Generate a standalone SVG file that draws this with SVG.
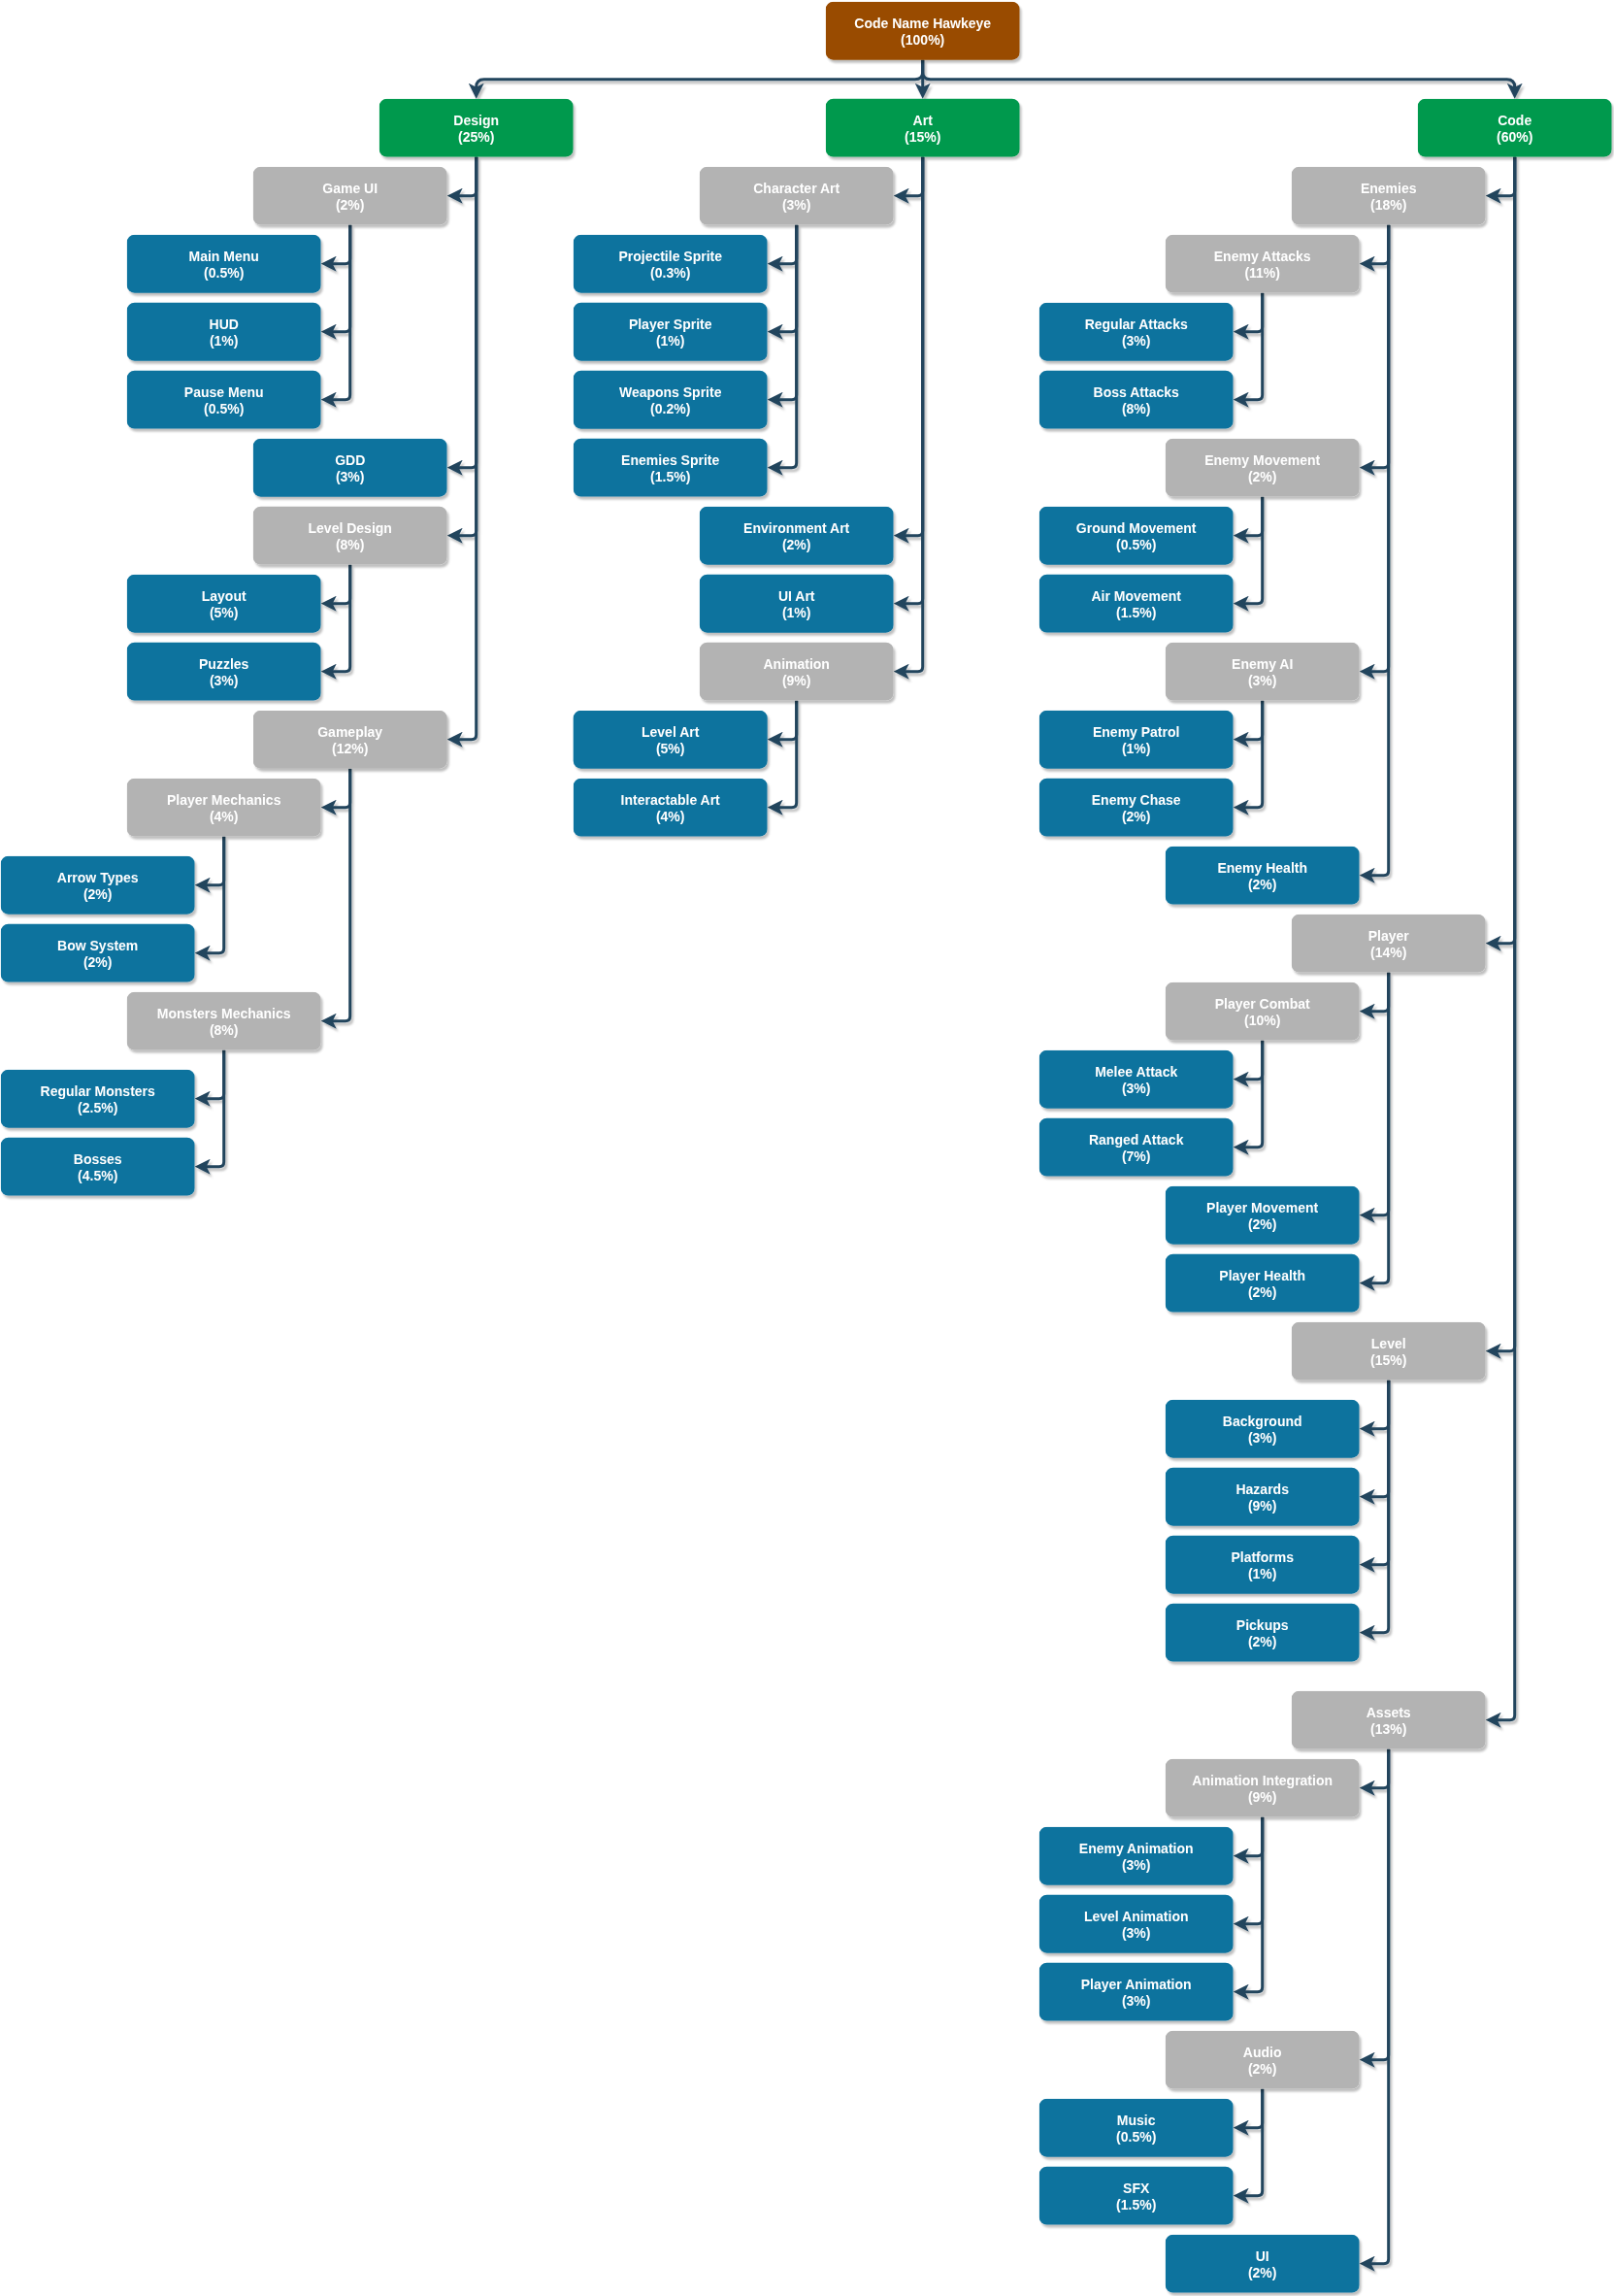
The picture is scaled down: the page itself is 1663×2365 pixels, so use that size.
<svg xmlns="http://www.w3.org/2000/svg" width="1663" height="2365" viewBox="0 0 1663 2365">
<style>
.n rect{rx:8;ry:8}
.root rect{fill:#994C00}
.grn rect{fill:#00994D}
.gry rect{fill:#B3B3B3}
.blu rect{fill:#10739E}
.n text{font-family:"Liberation Sans",Arial,sans-serif;font-size:14px;font-weight:bold;fill:#FFFFFF;text-anchor:middle}
.e path{fill:none;stroke:#23445D;stroke-width:3;marker-end:url(#arr)}
</style>
<defs>
<filter id="sh" x="-10%" y="-10%" width="130%" height="140%">
<feDropShadow dx="2" dy="3" stdDeviation="1" flood-color="#000000" flood-opacity="0.25"/>
</filter>
<marker id="arr" markerUnits="userSpaceOnUse" markerWidth="16" markerHeight="16" viewBox="0 0 16 16" refX="8" refY="8" orient="auto">
<path d="M0,0 L16,8 L0,16 L4,8 Z" fill="#23445D"/>
</marker>
<rect id="box" width="200" height="60"/>
</defs>
<rect width="1663" height="2365" fill="#FFFFFF"/>
<g transform="translate(0.7,1.7)">
<g id="connectors" class="e" filter="url(#sh)">
<path d="M950 60 V72 Q950 80 942 80 H498 Q490 80 490 88 V92"/>
<path d="M950 60 V92"/>
<path d="M950 60 V72 Q950 80 958 80 H1552 Q1560 80 1560 88 V92"/>
<path d="M490 160 V195 Q490 200 485 200 H468"/>
<path d="M490 160 V475 Q490 480 485 480 H468"/>
<path d="M490 160 V545 Q490 550 485 550 H468"/>
<path d="M490 160 V755 Q490 760 485 760 H468"/>
<path d="M360 230 V265 Q360 270 355 270 H338"/>
<path d="M360 230 V335 Q360 340 355 340 H338"/>
<path d="M360 230 V405 Q360 410 355 410 H338"/>
<path d="M360 580 V615 Q360 620 355 620 H338"/>
<path d="M360 580 V685 Q360 690 355 690 H338"/>
<path d="M360 790 V825 Q360 830 355 830 H338"/>
<path d="M360 790 V1045 Q360 1050 355 1050 H338"/>
<path d="M230 860 V905 Q230 910 225 910 H208"/>
<path d="M230 860 V975 Q230 980 225 980 H208"/>
<path d="M230 1080 V1125 Q230 1130 225 1130 H208"/>
<path d="M230 1080 V1195 Q230 1200 225 1200 H208"/>
<path d="M950 160 V195 Q950 200 945 200 H928"/>
<path d="M950 160 V545 Q950 550 945 550 H928"/>
<path d="M950 160 V615 Q950 620 945 620 H928"/>
<path d="M950 160 V685 Q950 690 945 690 H928"/>
<path d="M820 230 V265 Q820 270 815 270 H798"/>
<path d="M820 230 V335 Q820 340 815 340 H798"/>
<path d="M820 230 V405 Q820 410 815 410 H798"/>
<path d="M820 230 V475 Q820 480 815 480 H798"/>
<path d="M820 720 V755 Q820 760 815 760 H798"/>
<path d="M820 720 V825 Q820 830 815 830 H798"/>
<path d="M1560 160 V195 Q1560 200 1555 200 H1538"/>
<path d="M1560 160 V965 Q1560 970 1555 970 H1538"/>
<path d="M1560 160 V1385 Q1560 1390 1555 1390 H1538"/>
<path d="M1560 160 V1765 Q1560 1770 1555 1770 H1538"/>
<path d="M1430 230 V265 Q1430 270 1425 270 H1408"/>
<path d="M1430 230 V475 Q1430 480 1425 480 H1408"/>
<path d="M1430 230 V685 Q1430 690 1425 690 H1408"/>
<path d="M1430 230 V895 Q1430 900 1425 900 H1408"/>
<path d="M1300 300 V335 Q1300 340 1295 340 H1278"/>
<path d="M1300 300 V405 Q1300 410 1295 410 H1278"/>
<path d="M1300 510 V545 Q1300 550 1295 550 H1278"/>
<path d="M1300 510 V615 Q1300 620 1295 620 H1278"/>
<path d="M1300 720 V755 Q1300 760 1295 760 H1278"/>
<path d="M1300 720 V825 Q1300 830 1295 830 H1278"/>
<path d="M1430 1000 V1035 Q1430 1040 1425 1040 H1408"/>
<path d="M1430 1000 V1245 Q1430 1250 1425 1250 H1408"/>
<path d="M1430 1000 V1315 Q1430 1320 1425 1320 H1408"/>
<path d="M1300 1070 V1105 Q1300 1110 1295 1110 H1278"/>
<path d="M1300 1070 V1175 Q1300 1180 1295 1180 H1278"/>
<path d="M1430 1420 V1465 Q1430 1470 1425 1470 H1408"/>
<path d="M1430 1420 V1535 Q1430 1540 1425 1540 H1408"/>
<path d="M1430 1420 V1605 Q1430 1610 1425 1610 H1408"/>
<path d="M1430 1420 V1675 Q1430 1680 1425 1680 H1408"/>
<path d="M1430 1800 V1835 Q1430 1840 1425 1840 H1408"/>
<path d="M1430 1800 V2115 Q1430 2120 1425 2120 H1408"/>
<path d="M1430 1800 V2325 Q1430 2330 1425 2330 H1408"/>
<path d="M1300 1870 V1905 Q1300 1910 1295 1910 H1278"/>
<path d="M1300 1870 V1975 Q1300 1980 1295 1980 H1278"/>
<path d="M1300 1870 V2045 Q1300 2050 1295 2050 H1278"/>
<path d="M1300 2150 V2185 Q1300 2190 1295 2190 H1278"/>
<path d="M1300 2150 V2255 Q1300 2260 1295 2260 H1278"/>
</g>
<g id="nodes" filter="url(#sh)">
<g id="root" class="n root" transform="translate(850,0)"><rect width="200" height="60"/><text x="100" y="27.2">Code Name Hawkeye<tspan x="100" dy="16.8">(100%)</tspan></text></g>
<g id="design" class="n grn" transform="translate(390,100)"><rect width="200" height="60"/><text x="100" y="27.2">Design<tspan x="100" dy="16.8">(25%)</tspan></text></g>
<g id="art" class="n grn" transform="translate(850,100)"><rect width="200" height="60"/><text x="100" y="27.2">Art<tspan x="100" dy="16.8">(15%)</tspan></text></g>
<g id="code" class="n grn" transform="translate(1460,100)"><rect width="200" height="60"/><text x="100" y="27.2">Code<tspan x="100" dy="16.8">(60%)</tspan></text></g>

<g id="gameui" class="n gry" transform="translate(260,170)"><rect width="200" height="60"/><text x="100" y="27.2">Game UI<tspan x="100" dy="16.8">(2%)</tspan></text></g>
<g id="mainmenu" class="n blu" transform="translate(130,240)"><rect width="200" height="60"/><text x="100" y="27.2">Main Menu<tspan x="100" dy="16.8">(0.5%)</tspan></text></g>
<g id="hud" class="n blu" transform="translate(130,310)"><rect width="200" height="60"/><text x="100" y="27.2">HUD<tspan x="100" dy="16.8">(1%)</tspan></text></g>
<g id="pausemenu" class="n blu" transform="translate(130,380)"><rect width="200" height="60"/><text x="100" y="27.2">Pause Menu<tspan x="100" dy="16.8">(0.5%)</tspan></text></g>
<g id="gdd" class="n blu" transform="translate(260,450)"><rect width="200" height="60"/><text x="100" y="27.2">GDD<tspan x="100" dy="16.8">(3%)</tspan></text></g>
<g id="leveldesign" class="n gry" transform="translate(260,520)"><rect width="200" height="60"/><text x="100" y="27.2">Level Design<tspan x="100" dy="16.8">(8%)</tspan></text></g>
<g id="layout" class="n blu" transform="translate(130,590)"><rect width="200" height="60"/><text x="100" y="27.2">Layout<tspan x="100" dy="16.8">(5%)</tspan></text></g>
<g id="puzzles" class="n blu" transform="translate(130,660)"><rect width="200" height="60"/><text x="100" y="27.2">Puzzles<tspan x="100" dy="16.8">(3%)</tspan></text></g>
<g id="gameplay" class="n gry" transform="translate(260,730)"><rect width="200" height="60"/><text x="100" y="27.2">Gameplay<tspan x="100" dy="16.8">(12%)</tspan></text></g>
<g id="playermechanics" class="n gry" transform="translate(130,800)"><rect width="200" height="60"/><text x="100" y="27.2">Player Mechanics<tspan x="100" dy="16.8">(4%)</tspan></text></g>
<g id="arrowtypes" class="n blu" transform="translate(0,880)"><rect width="200" height="60"/><text x="100" y="27.2">Arrow Types<tspan x="100" dy="16.8">(2%)</tspan></text></g>
<g id="bowsystem" class="n blu" transform="translate(0,950)"><rect width="200" height="60"/><text x="100" y="27.2">Bow System<tspan x="100" dy="16.8">(2%)</tspan></text></g>
<g id="monstersmechanics" class="n gry" transform="translate(130,1020)"><rect width="200" height="60"/><text x="100" y="27.2">Monsters Mechanics<tspan x="100" dy="16.8">(8%)</tspan></text></g>
<g id="regularmonsters" class="n blu" transform="translate(0,1100)"><rect width="200" height="60"/><text x="100" y="27.2">Regular Monsters<tspan x="100" dy="16.8">(2.5%)</tspan></text></g>
<g id="bosses" class="n blu" transform="translate(0,1170)"><rect width="200" height="60"/><text x="100" y="27.2">Bosses<tspan x="100" dy="16.8">(4.5%)</tspan></text></g>

<g id="characterart" class="n gry" transform="translate(720,170)"><rect width="200" height="60"/><text x="100" y="27.2">Character Art<tspan x="100" dy="16.8">(3%)</tspan></text></g>
<g id="projectilesprite" class="n blu" transform="translate(590,240)"><rect width="200" height="60"/><text x="100" y="27.2">Projectile Sprite<tspan x="100" dy="16.8">(0.3%)</tspan></text></g>
<g id="playersprite" class="n blu" transform="translate(590,310)"><rect width="200" height="60"/><text x="100" y="27.2">Player Sprite<tspan x="100" dy="16.8">(1%)</tspan></text></g>
<g id="weaponssprite" class="n blu" transform="translate(590,380)"><rect width="200" height="60"/><text x="100" y="27.2">Weapons Sprite<tspan x="100" dy="16.8">(0.2%)</tspan></text></g>
<g id="enemiessprite" class="n blu" transform="translate(590,450)"><rect width="200" height="60"/><text x="100" y="27.2">Enemies Sprite<tspan x="100" dy="16.8">(1.5%)</tspan></text></g>
<g id="environmentart" class="n blu" transform="translate(720,520)"><rect width="200" height="60"/><text x="100" y="27.2">Environment Art<tspan x="100" dy="16.8">(2%)</tspan></text></g>
<g id="uiart" class="n blu" transform="translate(720,590)"><rect width="200" height="60"/><text x="100" y="27.2">UI Art<tspan x="100" dy="16.8">(1%)</tspan></text></g>
<g id="animation" class="n gry" transform="translate(720,660)"><rect width="200" height="60"/><text x="100" y="27.2">Animation<tspan x="100" dy="16.8">(9%)</tspan></text></g>
<g id="levelart" class="n blu" transform="translate(590,730)"><rect width="200" height="60"/><text x="100" y="27.2">Level Art<tspan x="100" dy="16.8">(5%)</tspan></text></g>
<g id="interactableart" class="n blu" transform="translate(590,800)"><rect width="200" height="60"/><text x="100" y="27.2">Interactable Art<tspan x="100" dy="16.8">(4%)</tspan></text></g>

<g id="enemies" class="n gry" transform="translate(1330,170)"><rect width="200" height="60"/><text x="100" y="27.2">Enemies<tspan x="100" dy="16.8">(18%)</tspan></text></g>
<g id="enemyattacks" class="n gry" transform="translate(1200,240)"><rect width="200" height="60"/><text x="100" y="27.2">Enemy Attacks<tspan x="100" dy="16.8">(11%)</tspan></text></g>
<g id="regularattacks" class="n blu" transform="translate(1070,310)"><rect width="200" height="60"/><text x="100" y="27.2">Regular Attacks<tspan x="100" dy="16.8">(3%)</tspan></text></g>
<g id="bossattacks" class="n blu" transform="translate(1070,380)"><rect width="200" height="60"/><text x="100" y="27.2">Boss Attacks<tspan x="100" dy="16.8">(8%)</tspan></text></g>
<g id="enemymovement" class="n gry" transform="translate(1200,450)"><rect width="200" height="60"/><text x="100" y="27.2">Enemy Movement<tspan x="100" dy="16.8">(2%)</tspan></text></g>
<g id="groundmovement" class="n blu" transform="translate(1070,520)"><rect width="200" height="60"/><text x="100" y="27.2">Ground Movement<tspan x="100" dy="16.8">(0.5%)</tspan></text></g>
<g id="airmovement" class="n blu" transform="translate(1070,590)"><rect width="200" height="60"/><text x="100" y="27.2">Air Movement<tspan x="100" dy="16.8">(1.5%)</tspan></text></g>
<g id="enemyai" class="n gry" transform="translate(1200,660)"><rect width="200" height="60"/><text x="100" y="27.2">Enemy AI<tspan x="100" dy="16.8">(3%)</tspan></text></g>
<g id="enemypatrol" class="n blu" transform="translate(1070,730)"><rect width="200" height="60"/><text x="100" y="27.2">Enemy Patrol<tspan x="100" dy="16.8">(1%)</tspan></text></g>
<g id="enemychase" class="n blu" transform="translate(1070,800)"><rect width="200" height="60"/><text x="100" y="27.2">Enemy Chase<tspan x="100" dy="16.8">(2%)</tspan></text></g>
<g id="enemyhealth" class="n blu" transform="translate(1200,870)"><rect width="200" height="60"/><text x="100" y="27.2">Enemy Health<tspan x="100" dy="16.8">(2%)</tspan></text></g>
<g id="player" class="n gry" transform="translate(1330,940)"><rect width="200" height="60"/><text x="100" y="27.2">Player<tspan x="100" dy="16.8">(14%)</tspan></text></g>
<g id="playercombat" class="n gry" transform="translate(1200,1010)"><rect width="200" height="60"/><text x="100" y="27.2">Player Combat<tspan x="100" dy="16.8">(10%)</tspan></text></g>
<g id="meleeattack" class="n blu" transform="translate(1070,1080)"><rect width="200" height="60"/><text x="100" y="27.2">Melee Attack<tspan x="100" dy="16.8">(3%)</tspan></text></g>
<g id="rangedattack" class="n blu" transform="translate(1070,1150)"><rect width="200" height="60"/><text x="100" y="27.2">Ranged Attack<tspan x="100" dy="16.8">(7%)</tspan></text></g>
<g id="playermovement" class="n blu" transform="translate(1200,1220)"><rect width="200" height="60"/><text x="100" y="27.2">Player Movement<tspan x="100" dy="16.8">(2%)</tspan></text></g>
<g id="playerhealth" class="n blu" transform="translate(1200,1290)"><rect width="200" height="60"/><text x="100" y="27.2">Player Health<tspan x="100" dy="16.8">(2%)</tspan></text></g>
<g id="level" class="n gry" transform="translate(1330,1360)"><rect width="200" height="60"/><text x="100" y="27.2">Level<tspan x="100" dy="16.8">(15%)</tspan></text></g>
<g id="background" class="n blu" transform="translate(1200,1440)"><rect width="200" height="60"/><text x="100" y="27.2">Background<tspan x="100" dy="16.8">(3%)</tspan></text></g>
<g id="hazards" class="n blu" transform="translate(1200,1510)"><rect width="200" height="60"/><text x="100" y="27.2">Hazards<tspan x="100" dy="16.8">(9%)</tspan></text></g>
<g id="platforms" class="n blu" transform="translate(1200,1580)"><rect width="200" height="60"/><text x="100" y="27.2">Platforms<tspan x="100" dy="16.8">(1%)</tspan></text></g>
<g id="pickups" class="n blu" transform="translate(1200,1650)"><rect width="200" height="60"/><text x="100" y="27.2">Pickups<tspan x="100" dy="16.8">(2%)</tspan></text></g>
<g id="assets" class="n gry" transform="translate(1330,1740)"><rect width="200" height="60"/><text x="100" y="27.2">Assets<tspan x="100" dy="16.8">(13%)</tspan></text></g>
<g id="animationintegration" class="n gry" transform="translate(1200,1810)"><rect width="200" height="60"/><text x="100" y="27.2">Animation Integration<tspan x="100" dy="16.8">(9%)</tspan></text></g>
<g id="enemyanimation" class="n blu" transform="translate(1070,1880)"><rect width="200" height="60"/><text x="100" y="27.2">Enemy Animation<tspan x="100" dy="16.8">(3%)</tspan></text></g>
<g id="levelanimation" class="n blu" transform="translate(1070,1950)"><rect width="200" height="60"/><text x="100" y="27.2">Level Animation<tspan x="100" dy="16.8">(3%)</tspan></text></g>
<g id="playeranimation" class="n blu" transform="translate(1070,2020)"><rect width="200" height="60"/><text x="100" y="27.2">Player Animation<tspan x="100" dy="16.8">(3%)</tspan></text></g>
<g id="audio" class="n gry" transform="translate(1200,2090)"><rect width="200" height="60"/><text x="100" y="27.2">Audio<tspan x="100" dy="16.8">(2%)</tspan></text></g>
<g id="music" class="n blu" transform="translate(1070,2160)"><rect width="200" height="60"/><text x="100" y="27.2">Music<tspan x="100" dy="16.8">(0.5%)</tspan></text></g>
<g id="sfx" class="n blu" transform="translate(1070,2230)"><rect width="200" height="60"/><text x="100" y="27.2">SFX<tspan x="100" dy="16.8">(1.5%)</tspan></text></g>
<g id="ui" class="n blu" transform="translate(1200,2300)"><rect width="200" height="60"/><text x="100" y="27.2">UI<tspan x="100" dy="16.8">(2%)</tspan></text></g>
</g>
</g>
</svg>
